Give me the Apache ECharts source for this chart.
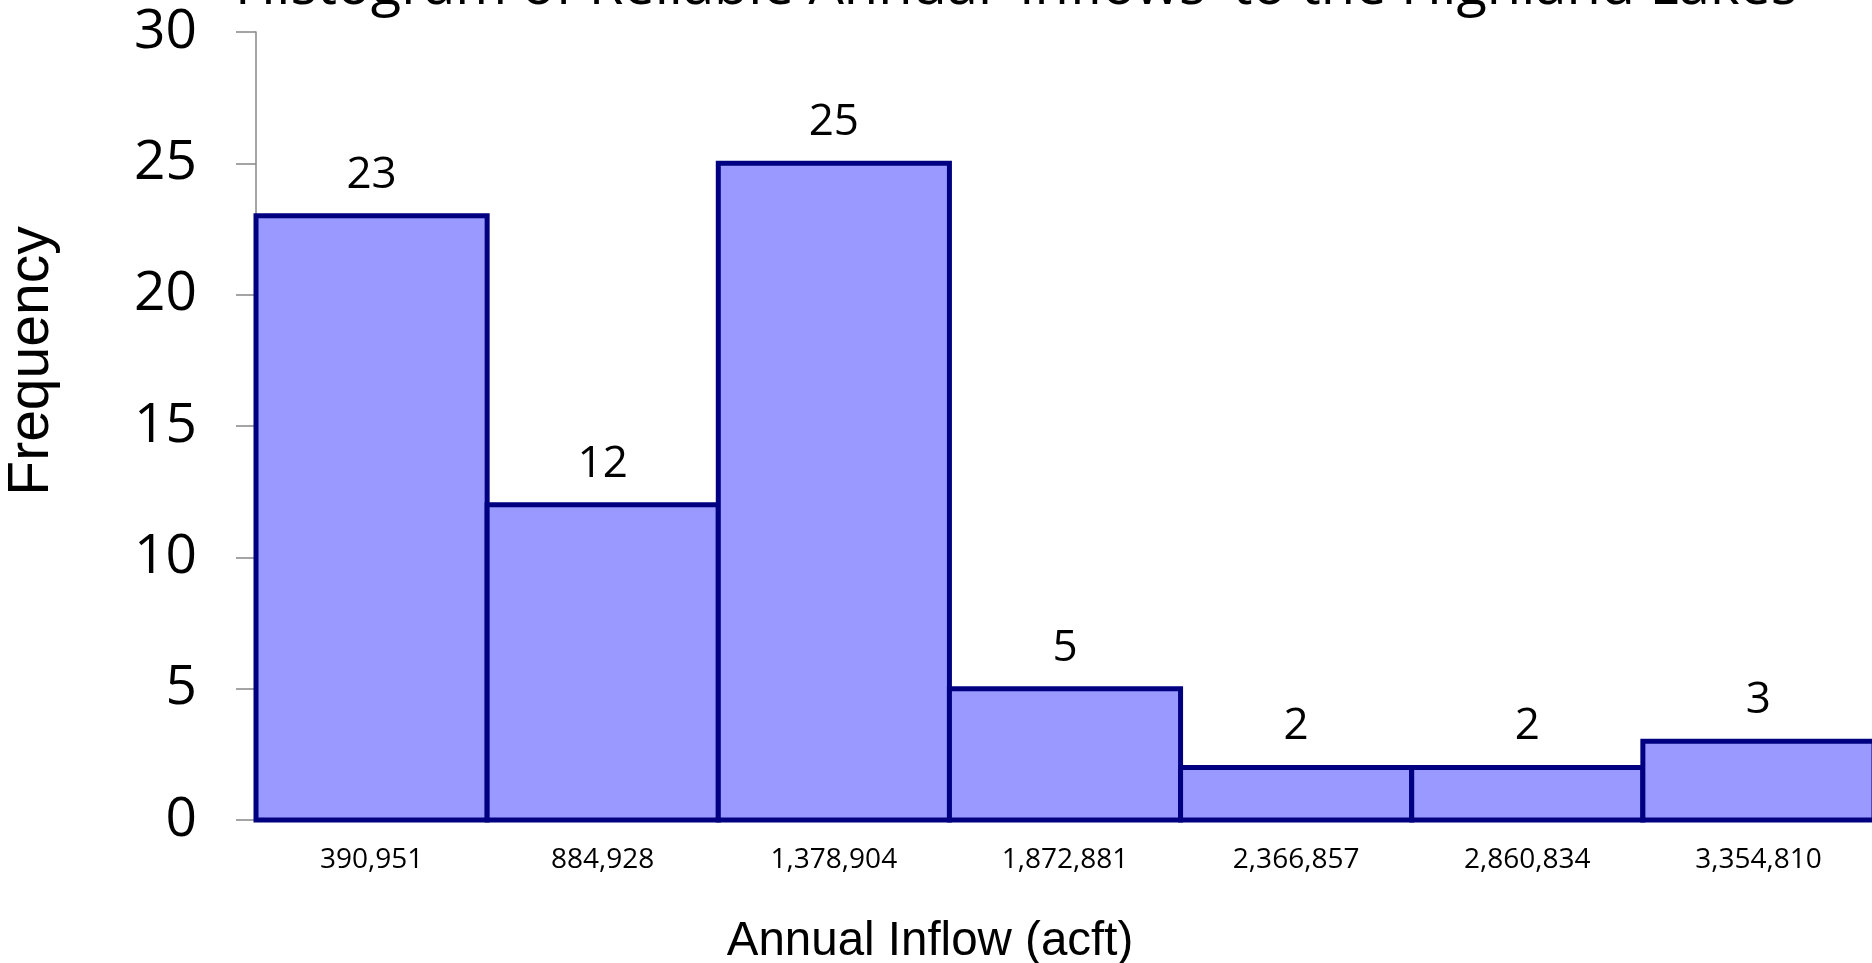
<!DOCTYPE html>
<html>
<head>
<meta charset="utf-8">
<title>Histogram of Reliable Annual Inflows</title>
<script src="https://cdn.jsdelivr.net/npm/echarts@6/dist/echarts.min.js"></script>
<style>
  html, body { margin: 0; padding: 0; background: #ffffff; }
  #chart { width: 1872px; height: 963px; }
</style>
</head>
<body>
<div id="chart"></div>
<script>
// Bin centres of annual inflow (acre-feet)
const binLabels = ['390,951', '884,928', '1,378,904', '1,872,881', '2,366,857', '2,860,834', '3,354,810'];
// Number of years falling in each bin
const frequencies = [23, 12, 25, 5, 2, 2, 3];

const titleText = "Histogram of Reliable Annual 'Inflows' to the Highland Lakes";
const xAxisTitle = 'Annual Inflow (acft)';
const yAxisTitle = 'Frequency';

const calibriLike = '"Open Sans", "Noto Sans", sans-serif';
const arialLike = '"Liberation Sans", Arial, sans-serif';

const BAR_FILL = '#9999FF';
const BAR_EDGE = '#000080';

// Histogram bins: each bar fills its whole category band so neighbours
// share one outline, with the stroke centred on the bin edges.
function renderBin(params, api) {
  const idx = api.value(0);
  const val = api.value(1);
  const top = api.coord([idx, val]);
  const base = api.coord([idx, 0]);
  const w = api.size([1, 0])[0];
  return {
    type: 'rect',
    shape: { x: top[0] - w / 2, y: top[1], width: w, height: base[1] - top[1] },
    style: { fill: BAR_FILL, stroke: BAR_EDGE, lineWidth: 5 },
    textContent: {
      style: {
        text: String(val),
        fontFamily: calibriLike,
        fontSize: 44,
        fill: '#000000'
      }
    },
    textConfig: { position: 'top', distance: 16 }
  };
}

const chart = echarts.init(document.getElementById('chart'), null, { renderer: 'canvas' });

chart.setOption({
  backgroundColor: '#ffffff',
  animation: false,
  title: {
    text: titleText,
    left: 235,
    top: -40,
    padding: 0,
    textStyle: {
      fontFamily: calibriLike,
      fontWeight: 'normal',
      fontSize: 56,
      color: '#000000'
    }
  },
  grid: {
    left: 256,
    width: 1618,
    top: 32,
    bottom: 143,
    containLabel: false,
    outerBoundsMode: 'none'
  },
  graphic: [
    {
      type: 'text',
      x: 930,
      y: 942,
      style: {
        text: xAxisTitle,
        font: '47.5px ' + arialLike,
        fill: '#000000',
        textAlign: 'center',
        textVerticalAlign: 'middle'
      }
    },
    {
      type: 'text',
      x: 32,
      y: 361,
      rotation: Math.PI / 2,
      style: {
        text: yAxisTitle,
        font: '57px ' + arialLike,
        fill: '#000000',
        textAlign: 'center',
        textVerticalAlign: 'middle'
      }
    }
  ],
  xAxis: {
    type: 'category',
    data: binLabels,
    axisLine: { show: true, lineStyle: { color: '#868686', width: 1.5 } },
    axisTick: { show: false },
    axisLabel: {
      margin: 26,
      fontFamily: calibriLike,
      fontSize: 28,
      color: '#000000'
    },
    splitLine: { show: false }
  },
  yAxis: {
    type: 'value',
    min: 0,
    max: 30,
    interval: 5,
    axisLine: { show: true, lineStyle: { color: '#868686', width: 1.5 } },
    axisTick: { show: true, inside: false, length: 20, lineStyle: { color: '#868686', width: 1.5 } },
    axisLabel: {
      margin: 59,
      fontFamily: calibriLike,
      fontSize: 55,
      color: '#000000'
    },
    splitLine: { show: false }
  },
  series: [
    {
      type: 'custom',
      renderItem: renderBin,
      encode: { x: 0, y: 1 },
      data: frequencies.map((v, i) => [i, v])
    }
  ]
});
</script>
</body>
</html>
